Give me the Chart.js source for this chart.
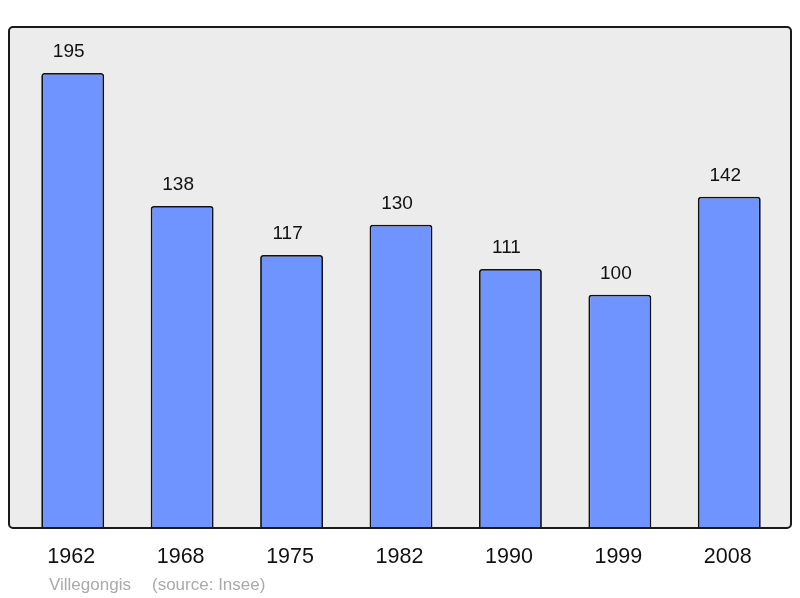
<!DOCTYPE html>
<html>
<head>
<meta charset="utf-8">
<script src="https://cdn.jsdelivr.net/npm/chart.js@4/dist/chart.umd.min.js"></script>
<style>
  html, body { margin: 0; padding: 0; background: #fff; }
  #wrap { width: 800px; height: 598px; position: relative; }
</style>
</head>
<body>
<div id="wrap"><canvas id="popChart" width="800" height="598"></canvas></div>
<script>
// Population history (Villegongis, source: Insee)
const years = ['1962', '1968', '1975', '1982', '1990', '1999', '2008'];
const population = [195, 138, 117, 130, 111, 100, 142];
const footerName = 'Villegongis';
const footerSource = '(source: Insee)';

// plot frame + labels drawn around the bars
const framePlugin = {
    id: 'frame',
    beforeDraw(chart) {
        const c = chart.ctx;
        const a = chart.chartArea;
        const x0 = 9, x1 = 791, y0 = a.top, y1 = a.bottom;
        c.save();
        c.beginPath();
        c.roundRect(x0, y0, x1 - x0, y1 - y0, 4);
        c.fillStyle = '#ececec';
        c.fill();
        c.restore();
    },
    afterDraw(chart) {
        const c = chart.ctx;
        const a = chart.chartArea;
        const x0 = 9, x1 = 791, y0 = a.top, y1 = a.bottom;
        c.save();
        c.beginPath();
        c.roundRect(x0, y0, x1 - x0, y1 - y0, 4);
        c.lineWidth = 2;
        c.strokeStyle = '#1a1a1a';
        c.stroke();

        const meta = chart.getDatasetMeta(0);
        c.fillStyle = '#111';
        c.textAlign = 'center';
        c.textBaseline = 'middle';
        c.font = '19px "Liberation Sans", Arial, sans-serif';
        meta.data.forEach((bar, i) => {
            c.fillText(String(population[i]), bar.x - 4, bar.y - 21);
        });
        c.font = '21.5px "Liberation Sans", Arial, sans-serif';
        meta.data.forEach((bar, i) => {
            c.fillText(years[i], bar.x - 1.5, 557.5);
        });
        c.textAlign = 'left';
        c.fillStyle = '#aaaaaa';
        c.font = '17px "Liberation Sans", Arial, sans-serif';
        c.fillText(footerName, 49, 585);
        c.fillText(footerSource, 152, 585);
        c.restore();
    }
};

new Chart(document.getElementById('popChart').getContext('2d'), {
    type: 'bar',
    data: {
        labels: years,
        datasets: [{
            data: population,
            backgroundColor: '#7094ff',
            borderColor: '#111',
            borderWidth: 1.8,
            borderRadius: 3,
            borderSkipped: 'bottom',
            categoryPercentage: 1,
            barPercentage: 0.575
        }]
    },
    options: {
        responsive: false,
        animation: false,
        layout: { padding: { left: 18, right: 16, top: 27, bottom: 70 } },
        plugins: { legend: { display: false }, tooltip: { enabled: false } },
        scales: {
            x: { display: false },
            y: { display: false, min: 0, max: 214.7 }
        }
    },
    plugins: [framePlugin]
});
</script>
</body>
</html>
